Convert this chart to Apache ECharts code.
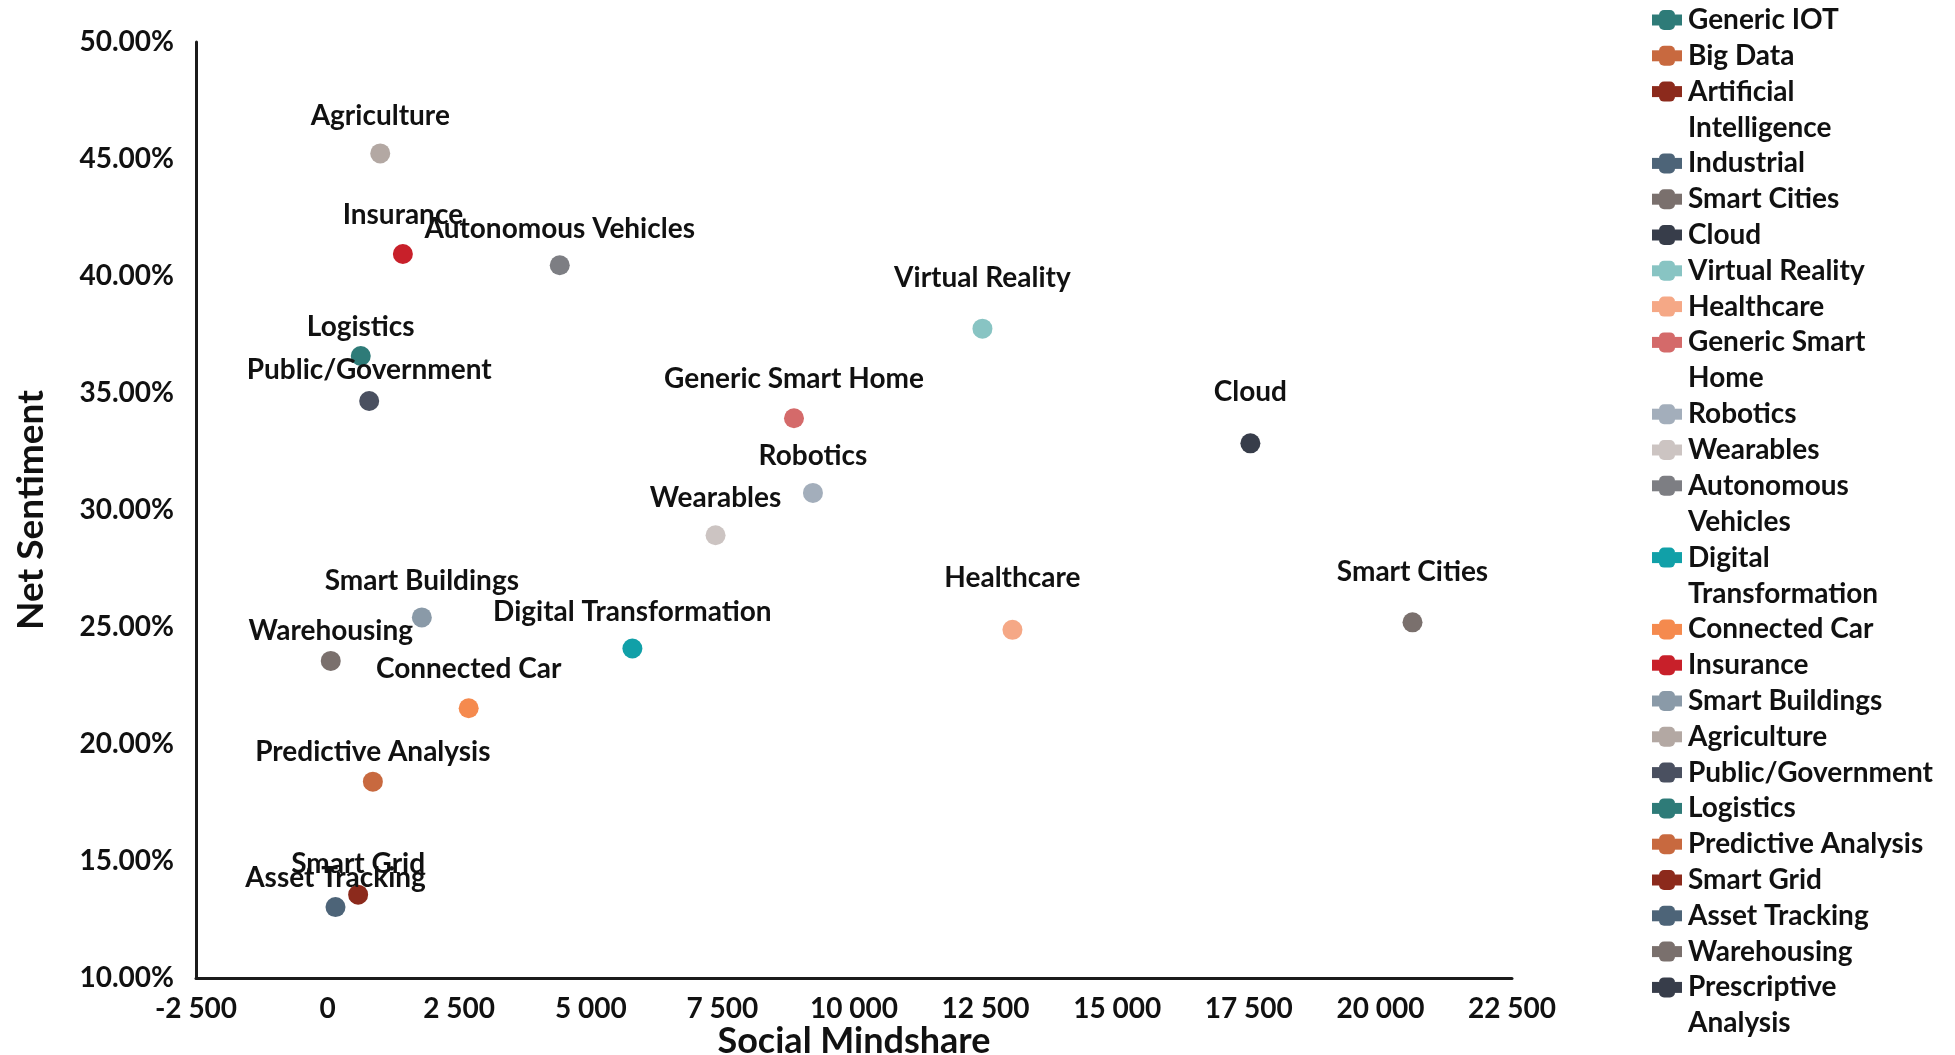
<!DOCTYPE html>
<html>
<head>
<meta charset="utf-8">
<script src="https://cdn.jsdelivr.net/npm/echarts@6/dist/echarts.min.js"></script>
<style>
  html, body { margin: 0; padding: 0; background: #ffffff; }
  #chart { width: 1955px; height: 1055px; }
</style>
</head>
<body>
<div id="chart"></div>
<script>
// Topics in legend order
const topics = [
  'Generic IOT', 'Big Data', 'Artificial Intelligence', 'Industrial', 'Smart Cities',
  'Cloud', 'Virtual Reality', 'Healthcare', 'Generic Smart Home', 'Robotics',
  'Wearables', 'Autonomous Vehicles', 'Digital Transformation', 'Connected Car',
  'Insurance', 'Smart Buildings', 'Agriculture', 'Public/Government', 'Logistics',
  'Predictive Analysis', 'Smart Grid', 'Asset Tracking', 'Warehousing',
  'Prescriptive Analysis'
];

// Social mindshare (x) per topic; null = no point inside the plotted range
const mindshare = [
  null, null, null, null, 20610,
  17530, 12440, 13010, 8860, 9220,
  7370, 4410, 5790, 2680,
  1430, 1790, 1000, 790, 630,
  860, 580, 150, 60,
  null
];

// Net sentiment (y, percent) per topic
const sentiment = [
  null, null, null, null, 25.20,
  32.85, 37.75, 24.88, 33.92, 30.73,
  28.92, 40.46, 24.08, 21.53,
  40.94, 25.41, 45.24, 34.66, 36.58,
  18.39, 13.56, 13.03, 23.55,
  null
];

// Axis ranges
const xRange = { min: -2500, max: 22500, step: 2500 };
const yRange = { min: 10, max: 50, step: 5 };

// Marker colours per topic
const colors = [
  '#2E7B78', '#C8693F', '#8C2A1C', '#4D6478', '#7A706D',
  '#373D4A', '#88C4C3', '#F5A886', '#D46A6A', '#A3AEBB',
  '#CCC4C2', '#7D7E83', '#11A0A8', '#F58A4E',
  '#C8202A', '#8A9AA8', '#B3A8A3', '#4A5060', '#2E7B78',
  '#C8693F', '#8C2A1C', '#4D6478', '#7A706D',
  '#373D4A'
];

// How far each point label sits above its marker centre (px)
const labelLift = {
  'Agriculture': 37, 'Insurance': 39, 'Autonomous Vehicles': 36, 'Virtual Reality': 51,
  'Logistics': 29, 'Public/Government': 31, 'Generic Smart Home': 39, 'Cloud': 51,
  'Robotics': 37, 'Wearables': 37, 'Smart Buildings': 36, 'Healthcare': 52,
  'Smart Cities': 50, 'Digital Transformation': 37, 'Warehousing': 30,
  'Connected Car': 39, 'Predictive Analysis': 30, 'Smart Grid': 31, 'Asset Tracking': 29
};

// Legend entries that run over two lines
const legendBreaks = {
  'Artificial Intelligence': ['Artificial', 'Intelligence'],
  'Generic Smart Home': ['Generic Smart', 'Home'],
  'Autonomous Vehicles': ['Autonomous', 'Vehicles'],
  'Digital Transformation': ['Digital', 'Transformation'],
  'Prescriptive Analysis': ['Prescriptive', 'Analysis']
};

const FONT = 'Lato, "Open Sans", sans-serif';
const WEIGHT = 'bold';
const INK = '#111111';

function groupThousands(v) {
  const s = Math.abs(v).toString().replace(/\B(?=(\d{3})+(?!\d))/g, ' ');
  return (v < 0 ? '-' : '') + s;
}

// Legend swatches: a thin band with a taller middle, like a line-and-marker key
const rich = {
  tx: { fontFamily: FONT, fontSize: 28, fontWeight: WEIGHT, color: INK, lineHeight: 36, verticalAlign: 'middle' },
  sp: { width: 6, lineHeight: 36 },
  ind: { width: 36, lineHeight: 36 }
};
colors.forEach((c, i) => {
  rich['e' + i] = { width: 7, height: 11, backgroundColor: c, verticalAlign: 'middle', lineHeight: 36 };
  rich['m' + i] = { width: 16, height: 20, backgroundColor: c, borderRadius: 5, verticalAlign: 'middle', lineHeight: 36 };
});

const series = topics.map((name, i) => ({
  name: name,
  type: 'scatter',
  symbol: 'circle',
  symbolSize: 20,
  itemStyle: { color: colors[i], opacity: 1 },
  emphasis: { disabled: true },
  data: mindshare[i] == null ? [] : [[mindshare[i], sentiment[i]]],
  label: {
    show: true,
    position: 'inside',
    offset: [0, -(labelLift[name] || 37)],
    formatter: '{a}',
    color: INK,
    textBorderWidth: 0,
    fontFamily: FONT,
    fontSize: 28,
    fontWeight: WEIGHT
  },
  z: 2
}));

const chart = echarts.init(document.getElementById('chart'), null, { renderer: 'canvas' });
chart.setOption({
  animation: false,
  backgroundColor: '#ffffff',
  grid: { left: 196, right: 443, top: 42, bottom: 77, outerBoundsMode: 'none', containLabel: false },
  xAxis: {
    type: 'value',
    min: xRange.min, max: xRange.max, interval: xRange.step,
    name: 'Social Mindshare',
    nameLocation: 'middle',
    nameGap: 45,
    nameMoveOverlap: false,
    nameTextStyle: { fontFamily: FONT, fontSize: 36, fontWeight: WEIGHT, color: INK },
    axisLine: { show: true, onZero: false, lineStyle: { color: '#1b1b1b', width: 3 } },
    axisTick: { show: false },
    splitLine: { show: false },
    axisLabel: {
      margin: 17,
      fontFamily: FONT, fontSize: 28, fontWeight: WEIGHT, color: INK,
      formatter: groupThousands
    }
  },
  yAxis: {
    type: 'value',
    min: yRange.min, max: yRange.max, interval: yRange.step,
    name: 'Net Sentiment',
    nameLocation: 'middle',
    nameGap: 146,
    nameMoveOverlap: false,
    nameTextStyle: { fontFamily: FONT, fontSize: 37, fontWeight: WEIGHT, color: INK },
    axisLine: { show: true, onZero: false, lineStyle: { color: '#1b1b1b', width: 3 } },
    axisTick: { show: false },
    splitLine: { show: false },
    axisLabel: {
      margin: 22,
      fontFamily: FONT, fontSize: 28, fontWeight: WEIGHT, color: INK,
      formatter: v => v.toFixed(2) + '%'
    }
  },
  legend: {
    type: 'plain',
    orient: 'vertical',
    left: 1647,
    top: 6,
    height: 1200,
    padding: 0,
    itemGap: 7.8,
    itemWidth: 0,
    itemHeight: 0,
    icon: 'none',
    selectedMode: false,
    data: topics,
    formatter: function (name) {
      const i = topics.indexOf(name);
      const key = '{e' + i + '|}{m' + i + '|}{e' + i + '|}{sp|}';
      const lines = legendBreaks[name] || [name];
      let out = key + '{tx|' + lines[0] + '}';
      for (let k = 1; k < lines.length; k++) out += '\n{ind|}{tx|' + lines[k] + '}';
      return out;
    },
    textStyle: { rich: rich }
  },
  series: series
});
</script>
</body>
</html>
